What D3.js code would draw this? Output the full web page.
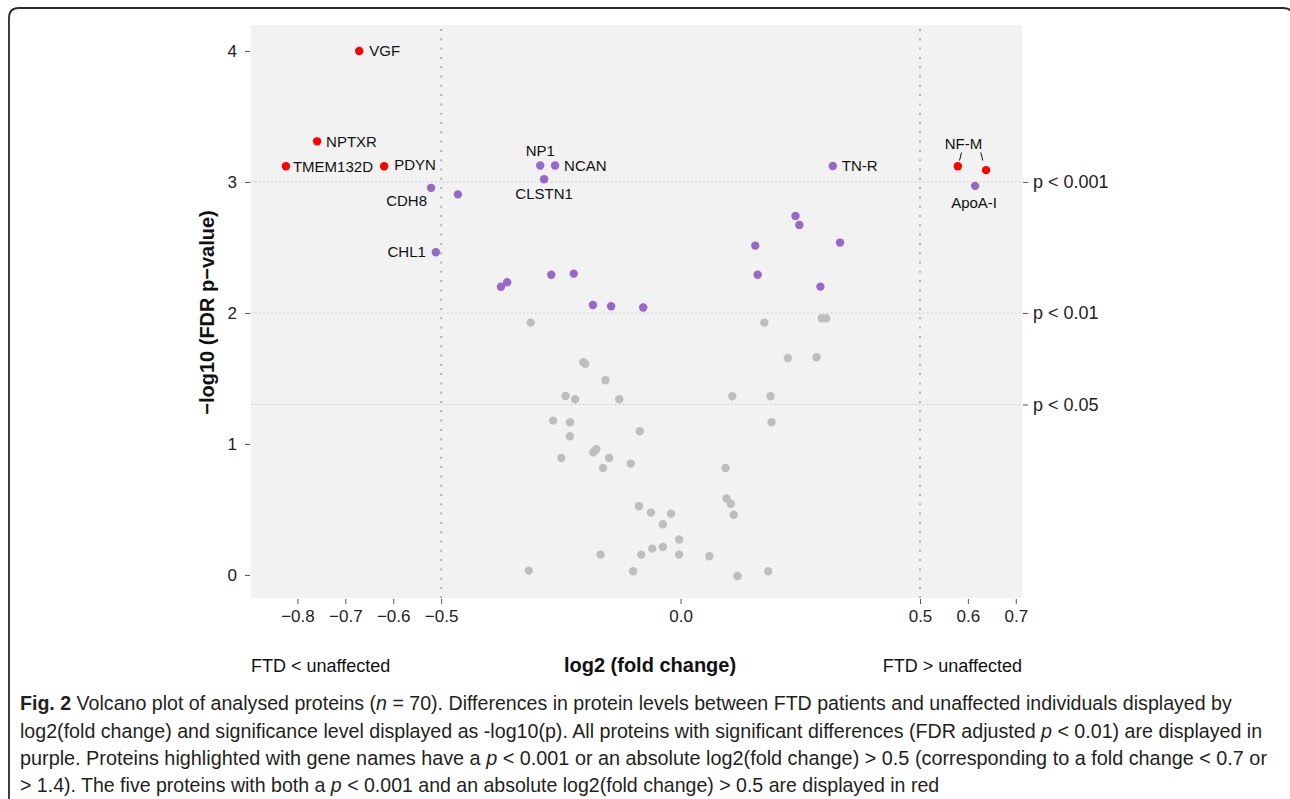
<!DOCTYPE html>
<html>
<head>
<meta charset="utf-8">
<script src="https://cdn.jsdelivr.net/npm/d3@7"></script>
<style>
  html, body { margin: 0; padding: 0; background: #fff; }
  svg { display: block; }
</style>
</head>
<body>
<svg id="chart" width="1290" height="799"></svg>
<script>
// ---------------- DATA ----------------
// red: p < 0.001 and |log2FC| > 0.5
const redNames = ["VGF", "NPTXR", "TMEM132D", "PDYN", "NF-M", "NF-M"];
const redLog2FC = [-0.671, -0.759, -0.824, -0.619, 0.579, 0.638];
const redNegLogP = [4.00, 3.31, 3.12, 3.12, 3.12, 3.09];

// purple: FDR p < 0.01
const purpleNames = ["ApoA-I", "CDH8", "", "CHL1", "NP1", "NCAN", "CLSTN1",
  "", "", "", "", "", "", "", "TN-R", "", "", "", "", "", ""];
const purpleLog2FC = [0.615, -0.521, -0.465, -0.511, -0.293, -0.262, -0.285,
  -0.375, -0.362, -0.270, -0.223, -0.183, -0.145, -0.078,
  0.318, 0.240, 0.248, 0.156, 0.333, 0.161, 0.292];
const purpleNegLogP = [2.97, 2.955, 2.905, 2.463, 3.125, 3.125, 3.02,
  2.20, 2.234, 2.292, 2.30, 2.061, 2.051, 2.041,
  3.122, 2.740, 2.672, 2.514, 2.537, 2.292, 2.201];

// grey: not significant
const greyLog2FC = [-0.313, 0.175, 0.295, 0.304, -0.203, -0.199, -0.157, -0.240, -0.220, -0.128,
  -0.266, -0.231, -0.231, -0.085, -0.182, -0.176, -0.249, -0.149, -0.162, -0.104,
  -0.087, -0.062, -0.020, -0.037, -0.003, -0.059, -0.037, -0.167, -0.082, -0.003,
  -0.317, -0.099, 0.224, 0.284, 0.108, 0.188, 0.190, 0.094, 0.096, 0.105,
  0.111, 0.060, 0.119, 0.183];
const greyNegLogP = [1.926, 1.926, 1.96, 1.96, 1.624, 1.611, 1.486, 1.366, 1.341, 1.341,
  1.178, 1.165, 1.059, 1.097, 0.936, 0.959, 0.893, 0.893, 0.817, 0.850,
  0.524, 0.476, 0.468, 0.387, 0.270, 0.201, 0.214, 0.155, 0.155, 0.155,
  0.033, 0.028, 1.656, 1.662, 1.364, 1.364, 1.166, 0.817, 0.583, 0.544,
  0.460, 0.143, -0.008, 0.028];

const xTicks = [-0.8, -0.7, -0.6, -0.5, 0.0, 0.5, 0.6, 0.7];
const yTicks = [0, 1, 2, 3, 4];
const pThresholdValues = [3, 2, 1.301];
const pThresholdLabels = ["p < 0.001", "p < 0.01", "p < 0.05"];
const fcThresholds = [-0.5, 0.5];

const captionLines = [
  [["b", "Fig. 2"], ["", " Volcano plot of analysed proteins ("], ["i", "n"], ["", " = 70). Differences in protein levels between FTD patients and unaffected individuals displayed by"]],
  [["", "log2(fold change) and significance level displayed as -log10(p). All proteins with significant differences (FDR adjusted "], ["i", "p"], ["", " < 0.01) are displayed in"]],
  [["", "purple. Proteins highlighted with gene names have a "], ["i", "p"], ["", " < 0.001 or an absolute log2(fold change) > 0.5 (corresponding to a fold change < 0.7 or"]],
  [["", "> 1.4). The five proteins with both a "], ["i", "p"], ["", " < 0.001 and an absolute log2(fold change) > 0.5 are displayed in red"]]
];

// ---------------- LAYOUT / STYLE ----------------
const W = 1290, H = 799;
const panel = { left: 251, right: 1022, top: 25, bottom: 598 };
const FONT = "'Liberation Sans', Arial, Helvetica, sans-serif";
const COL = { red: "#ff0000", purple: "#9966cc", grey: "#bebebe", panel: "#f2f2f2" };
const R = 4.2;

// label placement (pixel offsets relative to the point)
const labelLayout = {
  "VGF":      { anchor: "start",  dx: 10, dy: 0 },
  "NPTXR":    { anchor: "start",  dx: 9,  dy: 0 },
  "TMEM132D": { anchor: "start",  dx: 7,  dy: 0 },
  "PDYN":     { anchor: "start",  dx: 10, dy: -2 },
  "CDH8":     { anchor: "end",    dx: -4, dy: 13 },
  "CHL1":     { anchor: "end",    dx: -10, dy: -1 },
  "NP1":      { anchor: "middle", dx: 0,  dy: -15 },
  "NCAN":     { anchor: "start",  dx: 9,  dy: 0 },
  "CLSTN1":   { anchor: "middle", dx: 0,  dy: 14.5 },
  "TN-R":     { anchor: "start",  dx: 9,  dy: 0 },
  "ApoA-I":   { anchor: "middle", dx: -1, dy: 16.5 }
};

const svg = d3.select("#chart");

// outer frame (right side runs off the picture)
svg.append("path")
  .attr("d", `M9,${H} V18 Q9,8 19,8 H1283 Q1293,8 1293,18 V${H}`)
  .attr("fill", "none").attr("stroke", "#2a2a2a").attr("stroke-width", 1.8);

const x = d3.scaleLinear().domain([-0.897, 0.713]).range([panel.left, panel.right]);
const y = d3.scaleLinear().domain([-0.176, 4.198]).range([panel.bottom, panel.top]);

// panel
svg.append("rect")
  .attr("x", panel.left).attr("y", panel.top)
  .attr("width", panel.right - panel.left).attr("height", panel.bottom - panel.top)
  .attr("fill", COL.panel);

// threshold lines
svg.append("g").selectAll("line").data(pThresholdValues).join("line")
  .attr("x1", panel.left).attr("x2", panel.right)
  .attr("y1", d => y(d)).attr("y2", d => y(d))
  .attr("stroke", "#c4c4c4").attr("stroke-width", 1.1).attr("stroke-dasharray", "1.3,2.7");

svg.append("g").selectAll("line").data(fcThresholds).join("line")
  .attr("x1", d => x(d)).attr("x2", d => x(d))
  .attr("y1", panel.top + 4).attr("y2", panel.bottom)
  .attr("stroke", "#b4b4b4").attr("stroke-width", 2).attr("stroke-dasharray", "2,7.3");

// axes
const styleAxis = g => {
  g.select(".domain").remove();
  g.selectAll(".tick line").attr("stroke", "#555").attr("stroke-width", 1);
  g.selectAll(".tick text").attr("fill", "#222").style("font-family", FONT).style("font-size", "17px");
};

svg.append("g").attr("transform", `translate(${panel.left - 1},0)`)
  .call(d3.axisLeft(y).tickValues(yTicks).tickSize(5).tickPadding(8).tickFormat(d3.format("d")))
  .call(styleAxis);

svg.append("g").attr("transform", `translate(0,${panel.bottom + 1})`)
  .call(d3.axisBottom(x).tickValues(xTicks).tickSize(5).tickPadding(6)
    .tickFormat(d => d3.format(".1f")(d).replace("-", "\u2212")))
  .call(styleAxis);

const rightAxis = d3.axisRight(y).tickValues(pThresholdValues).tickSize(5).tickPadding(5)
  .tickFormat((d, i) => pThresholdLabels[i]);
svg.append("g").attr("transform", `translate(${panel.right + 1},0)`)
  .call(rightAxis).call(styleAxis)
  .selectAll(".tick text").style("font-size", "18px");

// points
function drawGroup(xs, ys, color) {
  const data = xs.map((v, i) => ({ fc: v, p: ys[i] }));
  svg.append("g").selectAll("circle").data(data).join("circle")
    .attr("cx", d => x(d.fc)).attr("cy", d => y(d.p)).attr("r", R)
    .attr("fill", color);
}
drawGroup(greyLog2FC, greyNegLogP, COL.grey);
drawGroup(purpleLog2FC, purpleNegLogP, COL.purple);
drawGroup(redLog2FC, redNegLogP, COL.red);

// labels
const labelG = svg.append("g").style("font-family", FONT).style("font-size", "15px").attr("fill", "#111");
function drawLabels(names, xs, ys) {
  names.forEach((n, i) => {
    const L = labelLayout[n];
    if (!L) return;
    labelG.append("text")
      .attr("x", x(xs[i]) + L.dx).attr("y", y(ys[i]) + L.dy)
      .attr("dy", "0.36em").attr("text-anchor", L.anchor).text(n);
  });
}
drawLabels(purpleNames, purpleLog2FC, purpleNegLogP);
drawLabels(redNames, redLog2FC, redNegLogP);

// NF-M: one label for two points, with leader segments
{
  const idx = redNames.map((n, i) => n === "NF-M" ? i : -1).filter(i => i >= 0);
  const p0 = { x: x(redLog2FC[idx[0]]), y: y(redNegLogP[idx[0]]) };
  const p1 = { x: x(redLog2FC[idx[1]]), y: y(redNegLogP[idx[1]]) };
  const cx = (p0.x + p1.x) / 2 - 8.5, cy = p0.y - 23;
  labelG.append("text").attr("x", cx).attr("y", cy).attr("dy", "0.36em")
    .attr("text-anchor", "middle").text("NF-M");
  svg.append("line").attr("x1", p0.x + 3.7).attr("y1", p0.y - 13.7).attr("x2", p0.x + 1.7).attr("y2", p0.y - 5.7)
    .attr("stroke", "#111").attr("stroke-width", 1);
  svg.append("line").attr("x1", p1.x - 5.3).attr("y1", p1.y - 17.7).attr("x2", p1.x - 3.3).attr("y2", p1.y - 9.7)
    .attr("stroke", "#111").attr("stroke-width", 1);
}

// axis titles
svg.append("text")
  .attr("transform", `translate(214,${(panel.top + panel.bottom) / 2 + 1}) rotate(-90)`)
  .attr("text-anchor", "middle")
  .style("font-family", FONT).style("font-size", "20px").style("font-weight", "bold")
  .attr("fill", "#111")
  .text("\u2212log10 (FDR p\u2212value)");

svg.append("text")
  .attr("x", 650).attr("y", 672).attr("text-anchor", "middle")
  .style("font-family", FONT).style("font-size", "20px").style("font-weight", "bold")
  .attr("fill", "#111").text("log2 (fold change)");

svg.append("text")
  .attr("x", panel.left).attr("y", 672).attr("text-anchor", "start")
  .style("font-family", FONT).style("font-size", "18px").attr("fill", "#111")
  .text("FTD < unaffected");
svg.append("text")
  .attr("x", panel.right).attr("y", 672).attr("text-anchor", "end")
  .style("font-family", FONT).style("font-size", "18px").attr("fill", "#111")
  .text("FTD > unaffected");

// caption (condensed face emulated by horizontal scaling)
const capBaselines = [710, 738, 765, 792];
const capRight = [1232, 1263, 1268, 940];
const capLeft = 20;
captionLines.forEach((parts, li) => {
  const g = svg.append("g");
  const t = g.append("text").attr("x", 0).attr("y", 0)
    .style("font-family", "'Liberation Sans Narrow', 'Liberation Sans', Arial, sans-serif")
    .style("font-size", "20.5px").attr("fill", "#231f20");
  parts.forEach(([st, s]) => {
    const ts = t.append("tspan").text(s);
    if (st === "b") ts.style("font-weight", "bold");
    if (st === "i") ts.style("font-style", "italic");
  });
  const w = t.node().getComputedTextLength();
  const sx = (capRight[li] - capLeft) / w;
  g.attr("transform", `translate(${capLeft},${capBaselines[li]}) scale(${sx},1)`);
});
</script>
</body>
</html>
